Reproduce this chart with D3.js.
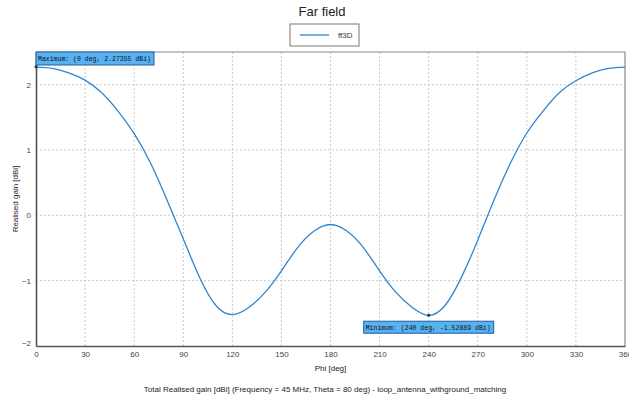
<!DOCTYPE html>
<html>
<head>
<meta charset="utf-8">
<script src="https://cdn.jsdelivr.net/npm/d3@7"></script>
<style>
  body { margin: 0; background: #fff; }
  text { font-family: "Liberation Sans", Arial, sans-serif; }
</style>
</head>
<body>
<div id="chart"></div>
<script>
// Far field cut
var phi  = [0, 10, 20, 30, 40, 50, 60, 70, 80, 90, 100, 110, 120, 130, 140, 150, 160, 170, 180,
            190, 200, 210, 220, 230, 240, 250, 260, 270, 280, 290, 300, 310, 320, 330, 340, 350, 360];
var gain = [2.27, 2.25, 2.18, 2.07, 1.88, 1.60, 1.25, 0.80, 0.24, -0.36, -0.95, -1.38, -1.52, -1.41, -1.18, -0.85, -0.49, -0.24, -0.14,
            -0.24, -0.49, -0.85, -1.18, -1.41, -1.53, -1.38, -0.95, -0.38, 0.24, 0.80, 1.26, 1.60, 1.88, 2.06, 2.18, 2.25, 2.27];
var xTicks = [0, 30, 60, 90, 120, 150, 180, 210, 240, 270, 300, 330, 360];
var yTicks = [-2, -1, 0, 1, 2];
var markers = [
  { phi: 0, gain: 2.27355, label: "Maximum: (0 deg, 2.27355 dBi)" },
  { phi: 240, gain: -1.52889, label: "Minimum: (240 deg, -1.52889 dBi)" }
];

var data = phi.map(function(p, i) { return { phi: p, gain: gain[i] }; });

var width = 629, height = 401;
var margin = { top: 52, right: 4, bottom: 55, left: 36 };
var w = width - margin.left - margin.right,
    h = height - margin.top - margin.bottom;

var svg = d3.select('#chart').append('svg')
  .attr('width', width)
  .attr('height', height);

var x = d3.scaleLinear().domain([0, 360]).range([margin.left, margin.left + w]);
var y = d3.scaleLinear().domain([-2, 2.5]).range([margin.top + h, margin.top]);

// grid
svg.append('g').selectAll('line')
  .data(xTicks.slice(1, -1))
  .enter().append('line')
  .attr('x1', function(d) { return x(d); })
  .attr('x2', function(d) { return x(d); })
  .attr('y1', margin.top).attr('y2', margin.top + h)
  .style('stroke', '#c8c8c8')
  .style('stroke-dasharray', '2,2');

svg.append('g').selectAll('line')
  .data(yTicks.slice(1))
  .enter().append('line')
  .attr('y1', function(d) { return y(d); })
  .attr('y2', function(d) { return y(d); })
  .attr('x1', margin.left).attr('x2', margin.left + w)
  .style('stroke', '#c8c8c8')
  .style('stroke-dasharray', '2,2');

// frame (top, right)
svg.append('path')
  .attr('d', 'M' + margin.left + ',' + margin.top + 'H' + (margin.left + w) + 'V' + (margin.top + h))
  .style('fill', 'none')
  .style('stroke', '#8a8a8a')
  .style('stroke-width', 1.2);

// axes
var xAxis = svg.append('g')
  .attr('transform', 'translate(0,' + (margin.top + h) + ')')
  .call(d3.axisBottom(x).tickValues(xTicks).tickSize(0).tickPadding(5).tickFormat(d3.format('d')));
var yAxis = svg.append('g')
  .attr('transform', 'translate(' + margin.left + ',0)')
  .call(d3.axisLeft(y).tickValues(yTicks).tickSize(0).tickPadding(5).tickFormat(d3.format('d')));

[xAxis, yAxis].forEach(function(a) {
  a.select('.domain').style('stroke', '#555').style('stroke-width', 1.6);
  a.selectAll('text').style('font-size', '8px').style('fill', '#444');
});
yAxis.selectAll('.tick').filter(function(d) { return d === -2; })
  .select('text').attr('dy', '-0.05em');

// line
var line = d3.line()
  .x(function(d) { return x(d.phi); })
  .y(function(d) { return y(d.gain); })
  .curve(d3.curveNatural);

svg.append('path')
  .datum(data)
  .attr('d', line)
  .style('fill', 'none')
  .style('stroke', '#2f86d0')
  .style('stroke-width', 1.3);

// marker points
svg.append('g').selectAll('circle')
  .data(markers)
  .enter().append('circle')
  .attr('cx', function(d) { return x(d.phi); })
  .attr('cy', function(d) { return y(d.gain); })
  .attr('r', 1.5)
  .style('fill', '#1a3550');

// annotation boxes
var boxes = [
  { m: markers[0], x0: margin.left, y0: margin.top, bw: 118, bh: 13 },
  { m: markers[1], x0: x(240) - 65, y0: y(-1.52889) + 6, bw: 130, bh: 12 }
];
var ann = svg.append('g').selectAll('g')
  .data(boxes)
  .enter().append('g')
  .attr('transform', function(d) { return 'translate(' + d.x0 + ',' + d.y0 + ')'; });
ann.append('rect')
  .attr('width', function(d) { return d.bw; })
  .attr('height', function(d) { return d.bh; })
  .style('fill', '#58b2f2')
  .style('stroke', '#1f5f9a')
  .style('stroke-width', 1);
ann.append('text')
  .attr('x', 2)
  .attr('y', function(d) { return d.bh / 2; })
  .attr('dy', '0.35em')
  .attr('textLength', function(d) { return d.bw - 5; })
  .attr('lengthAdjust', 'spacingAndGlyphs')
  .style('font-family', '"Liberation Mono", "DejaVu Sans Mono", monospace')
  .style('font-size', '7.5px')
  .style('fill', '#111')
  .text(function(d) { return d.m.label; });

// title
svg.append('text')
  .attr('x', 322).attr('y', 16)
  .style('text-anchor', 'middle')
  .style('font-size', '13px')
  .style('fill', '#222')
  .text('Far field');

// legend
var legend = svg.append('g').attr('transform', 'translate(290,24)');
legend.append('rect')
  .attr('width', 69).attr('height', 22)
  .style('fill', '#fff')
  .style('stroke', '#777');
legend.append('line')
  .attr('x1', 10).attr('x2', 39).attr('y1', 11).attr('y2', 11)
  .style('stroke', '#2f86d0').style('stroke-width', 1.3);
legend.append('text')
  .attr('x', 48).attr('y', 11).attr('dy', '0.35em')
  .style('font-size', '8px').style('fill', '#333')
  .text('ff3D');

// axis titles
svg.append('text')
  .attr('x', x(180)).attr('y', 371)
  .style('text-anchor', 'middle')
  .style('font-size', '8px').style('fill', '#222')
  .text('Phi [deg]');
svg.append('text')
  .attr('transform', 'translate(18,' + (margin.top + h / 2) + ') rotate(-90)')
  .style('text-anchor', 'middle')
  .style('font-size', '8px').style('fill', '#222')
  .text('Realised gain [dBi]');

svg.append('text')
  .attr('x', 325).attr('y', 392)
  .style('text-anchor', 'middle')
  .style('font-size', '8px').style('fill', '#222')
  .text('Total Realised gain [dBi] (Frequency = 45 MHz, Theta = 80 deg) - loop_antenna_withground_matching');
</script>
</body>
</html>
